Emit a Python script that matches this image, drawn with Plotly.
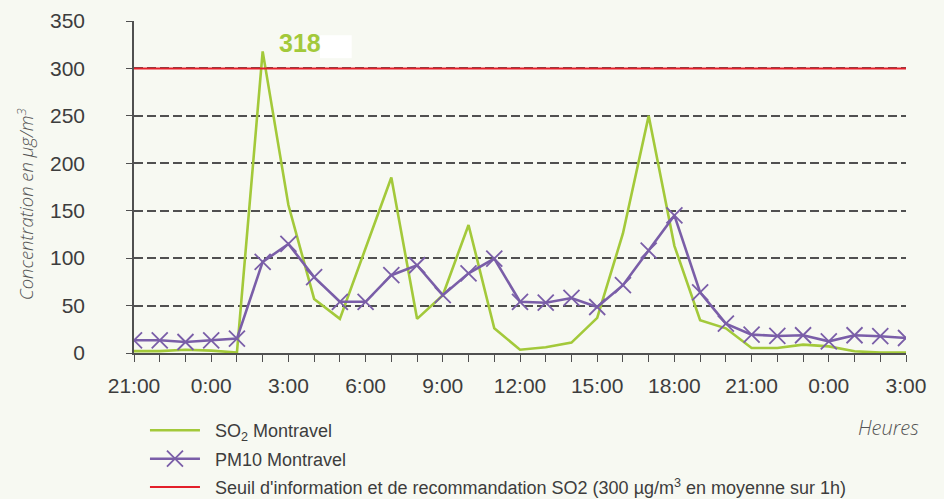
import plotly.graph_objects as go

hours = list(range(31))
tick_vals = list(range(0, 31, 3))
tick_labels = ["21:00", "0:00", "3:00", "6:00", "9:00", "12:00", "15:00", "18:00", "21:00", "0:00", "3:00"]

so2 = [2, 2, 3.5, 2.5, 0.5, 318, 156, 57, 36, 111, 185,
       36, 61, 135, 26, 3.5, 6, 11, 37, 126, 250,
       113, 34.5, 26, 5.3, 5.3, 8.8, 7, 1.8, 0.5, 0.5]
pm10 = [13.4, 13.4, 11.6, 13.4, 15.2, 96, 115, 80, 54, 54, 82,
        92.5, 61, 84, 99.5, 54, 53, 58, 48.5, 71.5, 108,
        145, 64, 31, 19.4, 18, 18.7, 12.3, 18.7, 17.7, 15.8]
threshold = [300] * 31

GREEN = "#a3c93a"
PURPLE = "#7a5ea8"
RED = "#e3202a"
TXT = "#3d3d3d"
AX = "#505050"
PAD = "\u00a0\u00a0"

fig = go.Figure()
fig.add_trace(go.Scatter(x=hours, y=so2, mode="lines", name=PAD + "SO<sub>2</sub> Montravel",
                         line=dict(color=GREEN, width=2.6), legendgroup="a"))
fig.add_trace(go.Scatter(x=hours, y=pm10, mode="lines+markers", name=PAD + "PM10 Montravel",
                         line=dict(color=PURPLE, width=2.6),
                         marker=dict(symbol="x-thin", size=16, line=dict(color=PURPLE, width=1.8)),
                         legendgroup="b"))
fig.add_trace(go.Scatter(x=hours, y=threshold, mode="lines",
                         name=PAD + "Seuil d'information et de recommandation SO2 (300 µg/m<sup>3</sup> en moyenne sur 1h)",
                         line=dict(color=RED, width=2), legendgroup="c"))

# white patch next to the peak label
fig.add_shape(type="rect", xref="paper", yref="paper", x0=0.241, x1=0.282, y0=0.888, y1=0.957,
              fillcolor="white", line=dict(width=0), layer="below")

peak_i = so2.index(max(so2))
fig.add_annotation(x=hours[peak_i], y=so2[peak_i], text="<b>318</b>", showarrow=False,
                   xshift=37, yshift=8, font=dict(family="Liberation Sans, Arial", size=25, color=GREEN))

fig.add_annotation(xref="paper", yref="paper", x=-0.1412, y=0.448, textangle=-90,
                   xanchor="center", yanchor="middle",
                   text="Concentration en µg/m<sup>3</sup>", showarrow=False,
                   font=dict(family="Open Sans", size=18.5, color="#555555", style="italic", weight=300))
fig.add_annotation(xref="paper", yref="paper", x=1.02, y=-0.2238, xanchor="right", yanchor="middle",
                   text="Heures", showarrow=False,
                   font=dict(family="Open Sans", size=20, color="#555555", style="italic", weight=300))

fig.update_xaxes(range=[0, 30], tickvals=tick_vals, ticktext=tick_labels, automargin=False,
                 showgrid=False, zeroline=False, showline=True, linecolor=AX, linewidth=1.5,
                 ticks="outside", ticklen=7, tickcolor=AX, tickwidth=1.2,
                 minor=dict(dtick=1, tick0=0, ticks="outside", ticklen=7, tickcolor=AX, tickwidth=1.2, showgrid=False),
                 tickfont=dict(family="Liberation Sans, Arial", size=21, color=TXT), ticklabelstandoff=6)
fig.update_yaxes(range=[0, 350], dtick=50, showgrid=True, gridcolor=AX, griddash="9px,4px", gridwidth=1.5,
                 automargin=False,
                 zeroline=False, showline=True, linecolor=AX, linewidth=1.5,
                 ticks="outside", ticklen=6, tickcolor=AX, tickwidth=1.2,
                 tickfont=dict(family="Liberation Sans, Arial", size=21, color=TXT), ticklabelstandoff=37)

fig.update_layout(
    width=944, height=499,
    margin=dict(l=134, r=38, t=21, b=146, autoexpand=False),
    paper_bgcolor="#f7f9f2", plot_bgcolor="rgba(0,0,0,0)",
    showlegend=True,
    legend=dict(x=0.0142, y=-0.178, xanchor="left", yanchor="top", tracegroupgap=2,
                traceorder="grouped", bgcolor="rgba(0,0,0,0)", itemwidth=50,
                font=dict(family="Liberation Sans, Arial", size=18, color=TXT)),
)

fig.write_html("out.html", config={"displayModeBar": False},
               post_script="document.body.style.margin='0';document.body.style.background='#f7f9f2';")
